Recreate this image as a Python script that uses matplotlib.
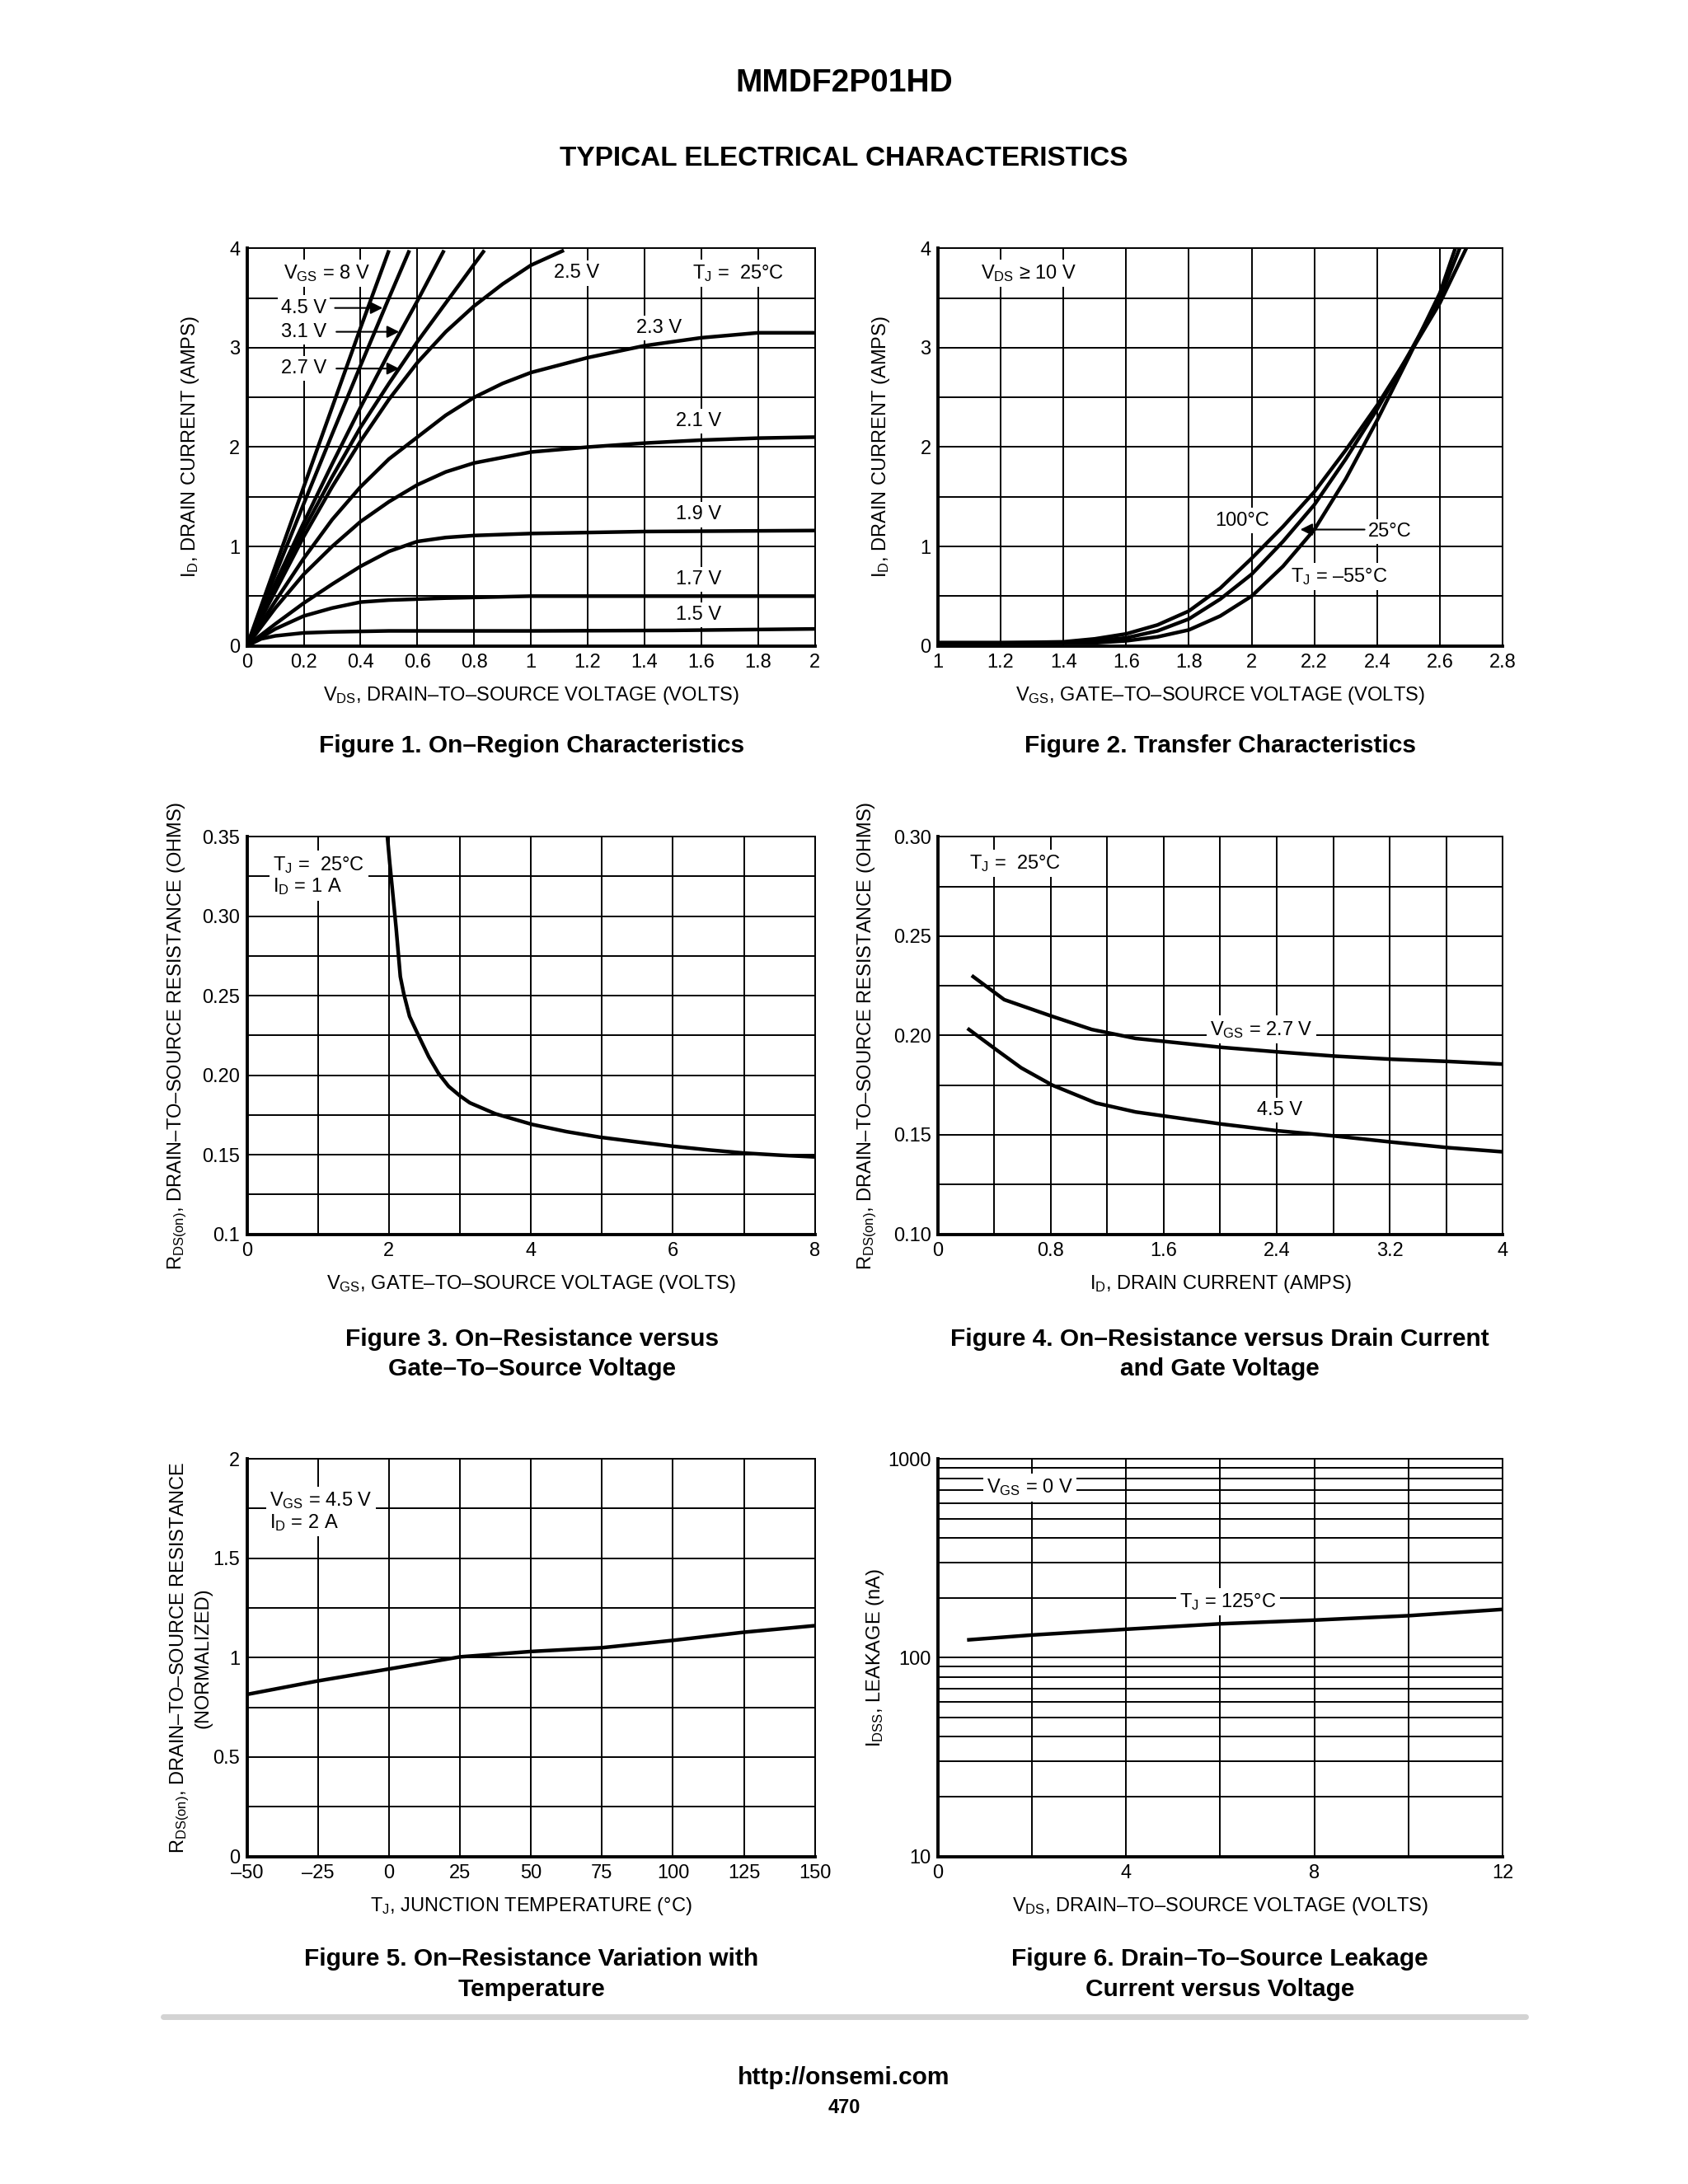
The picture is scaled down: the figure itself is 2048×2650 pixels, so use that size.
# MMDF2P01HD typical electrical characteristics page (6 panels)

import matplotlib
matplotlib.use('Agg')
import matplotlib.pyplot as plt
from matplotlib.lines import Line2D
from matplotlib.ticker import FixedLocator, FixedFormatter, NullFormatter

plt.rcParams['font.family'] = ['Liberation Sans', 'DejaVu Sans']
plt.rcParams['mathtext.fontset'] = 'custom'
plt.rcParams['mathtext.rm'] = 'Liberation Sans'
plt.rcParams['mathtext.it'] = 'Liberation Sans'
plt.rcParams['mathtext.bf'] = 'Liberation Sans:bold'

# ---- Figure 1: on-region characteristics (ID vs VDS per VGS) ----
vds_8v = [0, 0.1, 0.2, 0.3, 0.4, 0.5]
id_8v = [0, 0.8, 1.6, 2.4, 3.2, 3.98]
vds_45v = [0, 0.1, 0.2, 0.3, 0.4, 0.5, 0.572]
id_45v = [0, 0.72, 1.43, 2.13, 2.82, 3.5, 3.98]
vds_31v = [0, 0.1, 0.2, 0.3, 0.4, 0.5, 0.6, 0.694]
id_31v = [0, 0.63, 1.24, 1.83, 2.4, 2.95, 3.47, 3.98]
vds_27v = [0, 0.1, 0.2, 0.3, 0.4, 0.5, 0.6, 0.7, 0.8, 0.836]
id_27v = [0, 0.6, 1.17, 1.7, 2.2, 2.64, 3.06, 3.45, 3.84, 3.98]
vds_25v = [0, 0.1, 0.2, 0.3, 0.4, 0.5, 0.6, 0.7, 0.8, 0.9, 1.0, 1.116]
id_25v = [0, 0.55, 1.1, 1.6, 2.06, 2.48, 2.85, 3.16, 3.42, 3.64, 3.83, 3.98]
vds_23v = [0, 0.1, 0.2, 0.3, 0.4, 0.5, 0.6, 0.7, 0.8, 0.9, 1.0, 1.2, 1.4, 1.6, 1.8, 2.0]
id_23v = [0, 0.45, 0.88, 1.27, 1.6, 1.88, 2.1, 2.32, 2.5, 2.64, 2.75, 2.9, 3.02, 3.1, 3.15, 3.15]
vds_21v = [0, 0.1, 0.2, 0.3, 0.4, 0.5, 0.6, 0.7, 0.8, 1.0, 1.2, 1.4, 1.6, 1.8, 2.0]
id_21v = [0, 0.38, 0.72, 1.0, 1.25, 1.45, 1.62, 1.75, 1.84, 1.95, 2.0, 2.04, 2.07, 2.09, 2.1]
vds_19v = [0, 0.1, 0.2, 0.3, 0.4, 0.5, 0.6, 0.7, 0.8, 1.0, 1.4, 2.0]
id_19v = [0, 0.22, 0.43, 0.62, 0.8, 0.95, 1.05, 1.09, 1.11, 1.13, 1.15, 1.16]
vds_17v = [0, 0.1, 0.2, 0.3, 0.4, 0.5, 0.7, 1.0, 1.5, 2.0]
id_17v = [0, 0.17, 0.3, 0.38, 0.44, 0.46, 0.48, 0.5, 0.5, 0.5]
vds_15v = [0, 0.05, 0.1, 0.2, 0.3, 0.5, 1.0, 1.5, 2.0]
id_15v = [0, 0.07, 0.1, 0.13, 0.14, 0.15, 0.15, 0.155, 0.17]

# ---- Figure 2: transfer characteristics (ID vs VGS per TJ) ----
vgs_100c = [1.0, 1.2, 1.4, 1.5, 1.6, 1.7, 1.8, 1.9, 2.0, 2.1, 2.2, 2.3, 2.4, 2.5, 2.6, 2.684]
id_100c = [0.03, 0.03, 0.04, 0.07, 0.12, 0.21, 0.35, 0.58, 0.88, 1.2, 1.55, 1.97, 2.42, 2.92, 3.45, 4.0]
vgs_25c = [1.0, 1.2, 1.4, 1.5, 1.6, 1.7, 1.8, 1.9, 2.0, 2.1, 2.2, 2.3, 2.4, 2.5, 2.6, 2.663]
id_25c = [0.03, 0.03, 0.03, 0.05, 0.08, 0.15, 0.27, 0.47, 0.72, 1.05, 1.42, 1.88, 2.38, 2.93, 3.5, 4.0]
vgs_m55c = [1.0, 1.2, 1.4, 1.5, 1.6, 1.7, 1.8, 1.9, 2.0, 2.1, 2.2, 2.3, 2.4, 2.5, 2.6, 2.649]
id_m55c = [0.03, 0.03, 0.03, 0.03, 0.05, 0.09, 0.16, 0.3, 0.5, 0.8, 1.17, 1.68, 2.27, 2.9, 3.55, 4.0]

# ---- Figure 3: RDS(on) vs VGS ----
vgs_f3 = [1.98, 2.01, 2.05, 2.1, 2.16, 2.21, 2.29, 2.41, 2.56, 2.7, 2.84, 3.0, 3.14, 3.5,
          4.02, 4.5, 4.97, 5.5, 6.0, 6.5, 7.01, 7.5, 8.0]
rds_f3 = [0.349, 0.334, 0.316, 0.293, 0.262, 0.251, 0.237, 0.2255, 0.2116, 0.201, 0.193,
          0.187, 0.1826, 0.1757, 0.169, 0.1645, 0.161, 0.158, 0.1553, 0.153, 0.151, 0.1497, 0.1486]

# ---- Figure 4: RDS(on) vs ID ----
id_f4_27 = [0.25, 0.47, 0.81, 1.09, 1.40, 2.01, 2.41, 2.81, 3.22, 3.62, 3.99]
rds_f4_27 = [0.2296, 0.218, 0.2096, 0.203, 0.1985, 0.194, 0.1917, 0.1896, 0.188, 0.1869, 0.1856]
id_f4_45 = [0.22, 0.41, 0.59, 0.81, 1.12, 1.40, 2.01, 2.41, 2.81, 3.22, 3.62, 3.99]
rds_f4_45 = [0.203, 0.193, 0.1837, 0.175, 0.166, 0.1615, 0.1554, 0.152, 0.1494, 0.1463, 0.1435, 0.1415]

# ---- Figure 5: normalized RDS(on) vs TJ ----
tj_f5 = [-50, -25, 0, 25, 50, 75, 100, 125, 150]
rds_f5 = [0.815, 0.883, 0.943, 1.004, 1.031, 1.05, 1.087, 1.128, 1.161]

# ---- Figure 6: IDSS leakage vs VDS ----
vds_f6 = [0.66, 2.0, 4.0, 6.0, 8.0, 10.0, 12.0]
idss_f6 = [123, 130, 139, 148, 154.5, 162.6, 175]

TICK_FS = 17
LABEL_FS = 17
NOTE_FS = 17
CAP_FS = 21.5
CURVE_LW = 3.2

W, H = 20.48, 26.5
fig = plt.figure(figsize=(W, H), dpi=100)


def style_axes(ax, xlim, ylim, xmaj, xlabels, xmin, ymaj, ylabels, ymin):
    ax.set_xlim(*xlim)
    ax.set_ylim(*ylim)
    ax.xaxis.set_major_locator(FixedLocator(xmaj))
    ax.xaxis.set_major_formatter(FixedFormatter(xlabels))
    ax.xaxis.set_minor_locator(FixedLocator(xmin))
    ax.xaxis.set_minor_formatter(NullFormatter())
    ax.yaxis.set_major_locator(FixedLocator(ymaj))
    ax.yaxis.set_major_formatter(FixedFormatter(ylabels))
    ax.yaxis.set_minor_locator(FixedLocator(ymin))
    ax.yaxis.set_minor_formatter(NullFormatter())
    ax.grid(True, which='both', color='black', lw=1.4)
    ax.set_axisbelow(True)
    ax.tick_params(which='both', length=0, labelsize=TICK_FS)
    ax.tick_params(axis='x', pad=7)
    ax.tick_params(axis='y', pad=6)
    for side in ['left', 'bottom']:
        ax.spines[side].set_linewidth(2.8)
    for side in ['top', 'right']:
        ax.spines[side].set_linewidth(1.4)


def note(ax, x, y, s, ha='center', **kw):
    ax.text(x, y, s, ha=ha, va='center', fontsize=NOTE_FS, zorder=3,
            bbox=dict(facecolor='white', edgecolor='none', pad=3), **kw)


def arrow(ax, x0, x1, y):
    ax.annotate('', xy=(x1, y), xytext=(x0, y), zorder=5,
                arrowprops=dict(arrowstyle='-|>', color='black', lw=1.5,
                                mutation_scale=22, shrinkA=0, shrinkB=0))


def axis_labels(ax, xl, yl, ypos):
    ax.set_xlabel(xl, fontsize=LABEL_FS)
    ax.xaxis.set_label_coords(0.5, -0.125)
    ax.xaxis.label.set_va('center')
    ax.set_ylabel(yl, fontsize=LABEL_FS, multialignment='center')
    ax.yaxis.set_label_coords(ypos, 0.5)
    ax.yaxis.label.set_va('center')


def caption(x, y, s):
    fig.text(x, y, s, ha='center', va='center', fontsize=CAP_FS, fontweight='bold',
             linespacing=1.4)


ax_w1, ax_w2, ax_h = 0.3365, 0.3346, 0.182
left1, left2 = 0.1463, 0.5556
row_b = [0.7043, 0.4349, 0.150]

# Figure 1
ax1 = fig.add_axes([left1, row_b[0], ax_w1, ax_h])
for xs, ys in [(vds_8v, id_8v), (vds_45v, id_45v), (vds_31v, id_31v), (vds_27v, id_27v),
               (vds_25v, id_25v), (vds_23v, id_23v), (vds_21v, id_21v), (vds_19v, id_19v),
               (vds_17v, id_17v), (vds_15v, id_15v)]:
    ax1.plot(xs, ys, color='black', lw=CURVE_LW, zorder=4, solid_capstyle='butt')
style_axes(ax1, (0, 2), (0, 4),
           [0, 0.2, 0.4, 0.6, 0.8, 1, 1.2, 1.4, 1.6, 1.8, 2],
           ['0', '0.2', '0.4', '0.6', '0.8', '1', '1.2', '1.4', '1.6', '1.8', '2'], [],
           [0, 1, 2, 3, 4], ['0', '1', '2', '3', '4'], [0.5, 1.5, 2.5, 3.5])
axis_labels(ax1, r'V$_{\rm DS}$, DRAIN–TO–SOURCE VOLTAGE (VOLTS)',
            r'I$_{\rm D}$, DRAIN CURRENT (AMPS)', -0.100)
note(ax1, 0.28, 3.75, r'V$_{\rm GS}$ = 8 V')
note(ax1, 0.20, 3.40, '4.5 V')
note(ax1, 0.20, 3.16, '3.1 V')
note(ax1, 0.20, 2.79, '2.7 V')
arrow(ax1, 0.31, 0.478, 3.40)
arrow(ax1, 0.315, 0.536, 3.16)
arrow(ax1, 0.315, 0.536, 2.79)
note(ax1, 1.16, 3.75, '2.5 V')
note(ax1, 1.73, 3.75, r'T$_{\rm J}$ =  25°C')
note(ax1, 1.45, 3.20, '2.3 V')
note(ax1, 1.59, 2.26, '2.1 V')
note(ax1, 1.59, 1.32, '1.9 V')
note(ax1, 1.59, 0.67, '1.7 V')
note(ax1, 1.59, 0.31, '1.5 V')

# Figure 2
ax2 = fig.add_axes([left2, row_b[0], ax_w2, ax_h])
for xs, ys in [(vgs_100c, id_100c), (vgs_25c, id_25c), (vgs_m55c, id_m55c)]:
    ax2.plot(xs, ys, color='black', lw=CURVE_LW, zorder=4)
style_axes(ax2, (1, 2.8), (0, 4),
           [1, 1.2, 1.4, 1.6, 1.8, 2, 2.2, 2.4, 2.6, 2.8],
           ['1', '1.2', '1.4', '1.6', '1.8', '2', '2.2', '2.4', '2.6', '2.8'], [],
           [0, 1, 2, 3, 4], ['0', '1', '2', '3', '4'], [0.5, 1.5, 2.5, 3.5])
axis_labels(ax2, r'V$_{\rm GS}$, GATE–TO–SOURCE VOLTAGE (VOLTS)',
            r'I$_{\rm D}$, DRAIN CURRENT (AMPS)', -0.100)
note(ax2, 1.29, 3.75, r'V$_{\rm DS}$ ≥ 10 V')
note(ax2, 1.97, 1.26, '100°C')
note(ax2, 2.44, 1.15, '25°C')
arrow(ax2, 2.36, 2.155, 1.17)
note(ax2, 2.28, 0.70, r'T$_{\rm J}$ = –55°C')

# Figure 3
ax3 = fig.add_axes([left1, row_b[1], ax_w1, ax_h])
ax3.plot(vgs_f3, rds_f3, color='black', lw=CURVE_LW, zorder=4)
style_axes(ax3, (0, 8), (0.1, 0.35),
           [0, 2, 4, 6, 8], ['0', '2', '4', '6', '8'], [1, 3, 5, 7],
           [0.1, 0.15, 0.2, 0.25, 0.3, 0.35], ['0.1', '0.15', '0.20', '0.25', '0.30', '0.35'],
           [0.125, 0.175, 0.225, 0.275, 0.325])
axis_labels(ax3, r'V$_{\rm GS}$, GATE–TO–SOURCE VOLTAGE (VOLTS)',
            r'R$_{\rm DS(on)}$, DRAIN–TO–SOURCE RESISTANCE (OHMS)', -0.122)
note(ax3, 0.37, 0.3255, r'T$_{\rm J}$ =  25°C' + '\n' + r'I$_{\rm D}$ = 1 A', ha='left',
     linespacing=1.1)

# Figure 4
ax4 = fig.add_axes([left2, row_b[1], ax_w2, ax_h])
ax4.plot(id_f4_27, rds_f4_27, color='black', lw=CURVE_LW, zorder=4)
ax4.plot(id_f4_45, rds_f4_45, color='black', lw=CURVE_LW, zorder=4)
style_axes(ax4, (0, 4), (0.1, 0.3),
           [0, 0.8, 1.6, 2.4, 3.2, 4], ['0', '0.8', '1.6', '2.4', '3.2', '4'],
           [0.4, 1.2, 2.0, 2.8, 3.6],
           [0.1, 0.15, 0.2, 0.25, 0.3], ['0.10', '0.15', '0.20', '0.25', '0.30'],
           [0.125, 0.175, 0.225, 0.275])
axis_labels(ax4, r'I$_{\rm D}$, DRAIN CURRENT (AMPS)',
            r'R$_{\rm DS(on)}$, DRAIN–TO–SOURCE RESISTANCE (OHMS)', -0.125)
note(ax4, 0.22, 0.2865, r'T$_{\rm J}$ =  25°C', ha='left')
note(ax4, 2.29, 0.203, r'V$_{\rm GS}$ = 2.7 V')
note(ax4, 2.42, 0.1624, '4.5 V')

# Figure 5
ax5 = fig.add_axes([left1, row_b[2], ax_w1, ax_h])
ax5.plot(tj_f5, rds_f5, color='black', lw=CURVE_LW, zorder=4)
style_axes(ax5, (-50, 150), (0, 2),
           [-50, -25, 0, 25, 50, 75, 100, 125, 150],
           ['–50', '–25', '0', '25', '50', '75', '100', '125', '150'], [],
           [0, 0.5, 1, 1.5, 2], ['0', '0.5', '1', '1.5', '2'], [0.25, 0.75, 1.25, 1.75])
axis_labels(ax5, r'T$_{\rm J}$, JUNCTION TEMPERATURE (°C)',
            r'R$_{\rm DS(on)}$, DRAIN–TO–SOURCE RESISTANCE' + '\n(NORMALIZED)', -0.100)
note(ax5, -42, 1.735, r'V$_{\rm GS}$ = 4.5 V' + '\n' + r'I$_{\rm D}$ = 2 A', ha='left',
     linespacing=1.1)

# Figure 6
ax6 = fig.add_axes([left2, row_b[2], ax_w2, ax_h])
ax6.plot(vds_f6, idss_f6, color='black', lw=CURVE_LW, zorder=4)
ax6.set_yscale('log')
style_axes(ax6, (0, 12), (10, 1000),
           [0, 4, 8, 12], ['0', '4', '8', '12'], [2, 6, 10],
           [10, 100, 1000], ['10', '100', '1000'],
           [20, 30, 40, 50, 60, 70, 80, 90, 200, 300, 400, 500, 600, 700, 800, 900])
axis_labels(ax6, r'V$_{\rm DS}$, DRAIN–TO–SOURCE VOLTAGE (VOLTS)',
            r'I$_{\rm DSS}$, LEAKAGE (nA)', -0.110)
note(ax6, 1.95, 718, r'V$_{\rm GS}$ = 0 V')
note(ax6, 6.16, 191, r'T$_{\rm J}$ = 125°C')

# page text
fig.text(0.5, 0.9617, 'MMDF2P01HD', ha='center', va='center', fontsize=28, fontweight='bold')
fig.text(0.5, 0.9272, 'TYPICAL ELECTRICAL CHARACTERISTICS', ha='center', va='center',
         fontsize=24, fontweight='bold')
caption(0.315, 0.6584, 'Figure 1. On–Region Characteristics')
caption(0.7227, 0.6584, 'Figure 2. Transfer Characteristics')
caption(0.315, 0.380, 'Figure 3. On–Resistance versus\nGate–To–Source Voltage')
caption(0.7227, 0.380, 'Figure 4. On–Resistance versus Drain Current\nand Gate Voltage')
caption(0.315, 0.096, 'Figure 5. On–Resistance Variation with\nTemperature')
caption(0.7227, 0.096, 'Figure 6. Drain–To–Source Leakage\nCurrent versus Voltage')

fig.add_artist(Line2D([0.0967, 0.904], [0.0766, 0.0766], color='#d3d3d3', lw=5,
                      solid_capstyle='round'))
fig.text(0.5, 0.0485, 'http://onsemi.com', ha='center', va='center', fontsize=21.5,
         fontweight='bold')
fig.text(0.5, 0.035, '470', ha='center', va='center', fontsize=17, fontweight='bold')

fig.savefig('out.png', dpi=100, facecolor='white')
